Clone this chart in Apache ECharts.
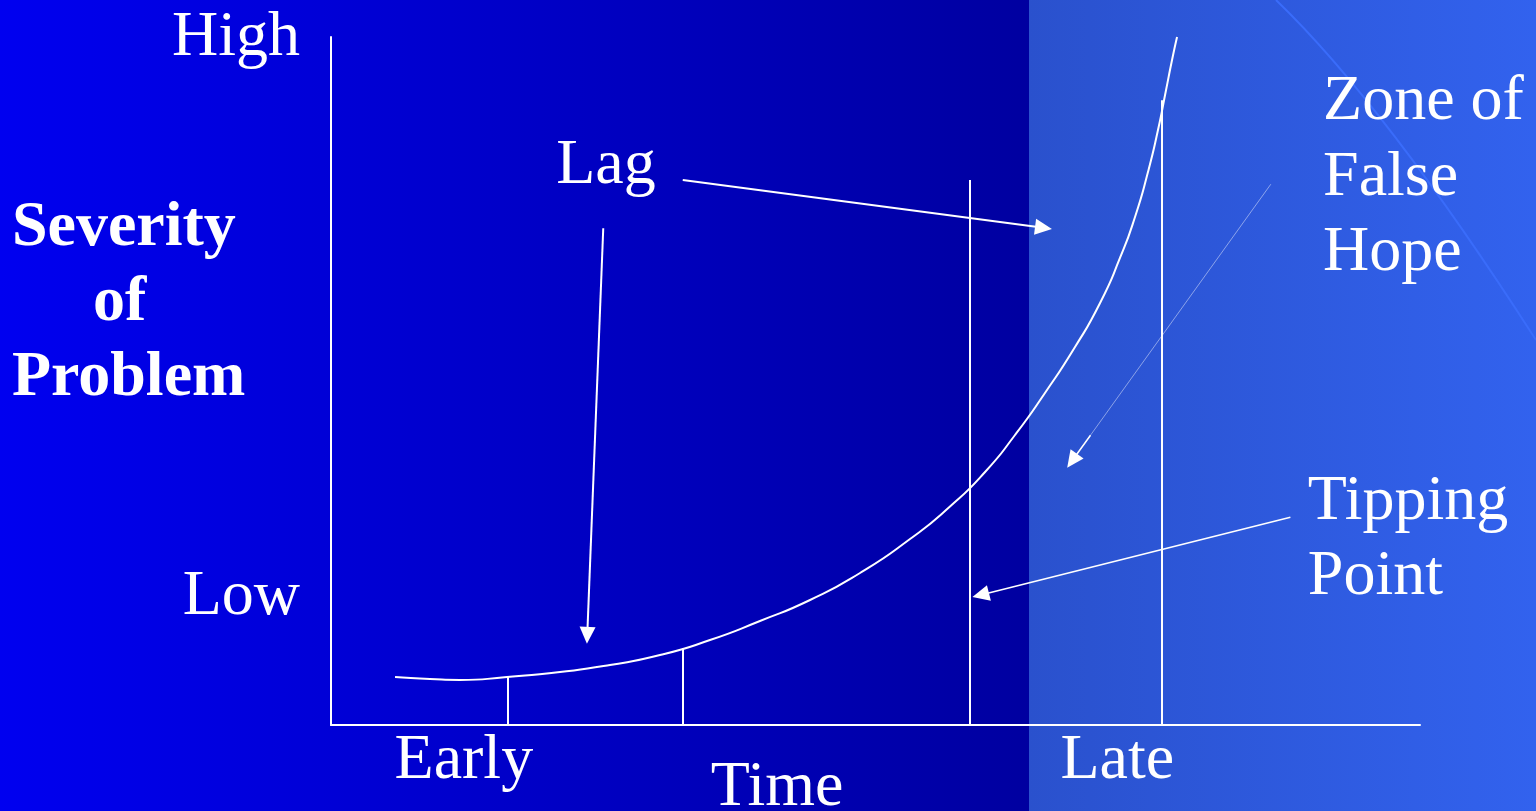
<!DOCTYPE html>
<html><head><meta charset="utf-8">
<script src="https://cdn.jsdelivr.net/npm/echarts@6/dist/echarts.min.js"></script>
<style>html,body{margin:0;padding:0;background:#0000ee;overflow:hidden}#c{width:1536px;height:811px}</style>
</head><body><div id="c"></div>
<script>
// ---- data (Time 0..100, Severity 0..100) ----
const curveTime     = [5.88, 9.09, 11.85, 16.16, 21.03, 25.62, 30.21, 34.80, 39.39, 43.99, 48.58, 53.17, 56.84, 60.06, 62.81, 65.56, 68.32, 70.62, 72.45, 73.83, 75.02, 75.94, 76.68, 77.23, 77.69];
const curveSeverity = [6.98, 6.69, 6.54, 6.98, 7.70, 8.72, 10.17, 12.35, 15.12, 18.17, 22.09, 27.03, 31.76, 36.77, 42.15, 48.26, 54.94, 61.34, 67.88, 73.84, 80.38, 86.48, 92.30, 96.66, 100.0];

const markerTimes = [16.2, 32.3, 58.7, 76.3];
const markerTops  = [7.0, 11.2, 79.2, 90.8];

const yTickLabels = ['High', 'Low'];
const yTickValues = [100.4, 19.2];
const xTickLabels = ['Early', 'Late'];
const xTickValues = [12.2, 72.2];
const xAxisTitle = 'Time';
const yAxisTitle = ['Severity', 'of', 'Problem'];

// annotation arrows: from (time, severity) to arrow tip (time, severity)
const arrowFromTime = [25.0, 32.3, 86.3, 88.1];
const arrowFromSev  = [72.2, 79.2, 78.6, 30.2];
const arrowToTime   = [23.5, 66.2, 67.6, 58.9];
const arrowToSev    = [11.8, 72.1, 37.4, 18.6];
const arrowFaint    = [false, false, true, false];

const annoLines = ['Lag', 'Zone of', 'False', 'Hope', 'Tipping', 'Point'];
const annoTime  = [25.25, 91.1, 91.1, 91.1, 89.7, 89.7];
const annoSev   = [81.8, 91.1, 80.1, 69.2, 32.9, 22.0];

// ---- chart ----
const chart = echarts.init(document.getElementById('c'), null, {renderer: 'canvas'});
const FONT = '"Liberation Serif", "Times New Roman", serif';
const HEAD = [16, 17];

chart.setOption({
  animation: false,
  backgroundColor: 'transparent',
  grid: {left: 331, right: 116, top: 37, bottom: 86, containLabel: false},
  xAxis: {
    type: 'value', min: 0, max: 100,
    axisLine: {show: true, onZero: false, lineStyle: {color: '#fff', width: 2}},
    axisTick: {show: false}, axisLabel: {show: false}, splitLine: {show: false}
  },
  yAxis: {
    type: 'value', min: 0, max: 100,
    axisLine: {show: true, onZero: false, lineStyle: {color: '#fff', width: 2}},
    axisTick: {show: false}, axisLabel: {show: false}, splitLine: {show: false}
  },
  series: [
    {
      type: 'line', name: 'Severity',
      data: curveTime.map((t, i) => [t, curveSeverity[i]]),
      smooth: 0.6, symbol: 'none', clip: false,
      lineStyle: {color: '#fff', width: 2}
    }
  ]
});

function px(t, s) { return chart.convertToPixel({xAxisIndex: 0, yAxisIndex: 0}, [t, s]); }
function dt(p) { return chart.convertFromPixel({xAxisIndex: 0, yAxisIndex: 0}, p); }

// arrow end moved back by half the head length so the head's tip lands on the data tip
function arrowItems() {
  const items = [];
  for (let i = 0; i < arrowFromTime.length; i++) {
    const a = [arrowFromTime[i], arrowFromSev[i]];
    const tip = [arrowToTime[i], arrowToSev[i]];
    const pa = px(a[0], a[1]), pt = px(tip[0], tip[1]);
    const dx = pt[0] - pa[0], dy = pt[1] - pa[1], len = Math.hypot(dx, dy);
    const back = HEAD[1] / 2;
    const b = dt([pt[0] - dx / len * back, pt[1] - dy / len * back]);
    if (arrowFaint[i]) {
      items.push([{coord: a, symbol: 'none', lineStyle: {color: 'rgba(255,255,255,0.45)', width: 1}}, {coord: b, symbol: 'none'}]);
      const m = dt([pt[0] - dx / len * 40, pt[1] - dy / len * 40]);
      items.push([{coord: m, symbol: 'none', lineStyle: {color: '#fff', width: 1.5}}, {coord: b, symbol: 'triangle'}]);
    } else {
      items.push([{coord: a, symbol: 'none', lineStyle: {color: '#fff', width: i === 3 ? 1.6 : 2}}, {coord: b, symbol: 'triangle'}]);
    }
  }
  return items;
}
function markerItems() {
  return markerTimes.map((t, i) => [{coord: [t, 0]}, {coord: [t, markerTops[i]]}]);
}

const texts = [];
function addText(str, t, s, align, bold) {
  const p = px(t, s);
  texts.push({
    type: 'text', x: p[0], y: p[1] + 4, z: 10,
    style: {text: str, fill: '#fff', font: (bold ? 'bold ' : '') + '64px ' + FONT, textAlign: align, textVerticalAlign: 'middle'}
  });
}
yTickLabels.forEach((l, i) => addText(l, -2.85, yTickValues[i], 'right', false));
xTickLabels.forEach((l, i) => addText(l, xTickValues[i], -4.7, 'center', false));
addText(xAxisTitle, 40.96, -8.58, 'center', false);
addText(yAxisTitle[0], -29.3, 72.8, 'left', true);
addText(yAxisTitle[1], -21.85, 61.9, 'left', true);
addText(yAxisTitle[2], -29.3, 51.0, 'left', true);
annoLines.forEach((l, i) => addText(l, annoTime[i], annoSev[i], i === 0 ? 'center' : 'left', false));

chart.setOption({
  series: [
    {},
    {
      type: 'line', data: [], silent: true,
      markLine: {
        silent: true, animation: false, symbol: ['none', 'none'],
        label: {show: false}, lineStyle: {color: '#fff', width: 2, type: 'solid'},
        emphasis: {disabled: true},
        data: markerItems()
      }
    },
    {
      type: 'line', data: [], silent: true,
      markLine: {
        silent: true, animation: false, symbol: ['none', 'triangle'], symbolSize: HEAD,
        label: {show: false}, lineStyle: {color: '#fff', width: 2, type: 'solid'},
        itemStyle: {color: '#fff'},
        emphasis: {disabled: true},
        data: arrowItems()
      }
    }
  ],
  graphic: [
    {type: 'rect', z: -10, shape: {x: 0, y: 0, width: 1030, height: 811},
     style: {fill: new echarts.graphic.LinearGradient(0, 0, 1, 0, [{offset: 0, color: '#0000f0'}, {offset: 1, color: '#0000a0'}])}},
    {type: 'rect', z: -10, shape: {x: 1029, y: 0, width: 507, height: 811},
     style: {fill: new echarts.graphic.LinearGradient(0, 0, 1, 0, [{offset: 0, color: '#2a51cd'}, {offset: 1, color: '#3262ee'}])}},
    {type: 'bezierCurve', z: -9, shape: {x1: 1276, y1: 0, x2: 1536, y2: 340, cpx1: 1385, cpy1: 105},
     style: {stroke: '#3a6cfa', lineWidth: 2, fill: null}},
    ...texts
  ]
});
</script>
</body></html>
